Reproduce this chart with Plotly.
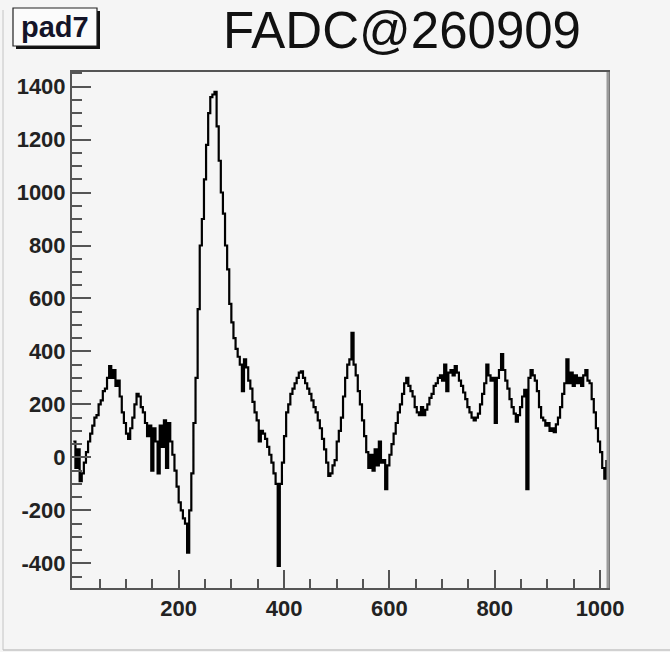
import plotly.graph_objects as go

# ---- data ----
title_text = "FADC@260909"
pad_label = "pad7"
bin_step = 4
bins = list(range(0, 1013, bin_step))
adc = [
    60, -40, 30, -90, -60, -20, 20, 60, 90, 120,
    150, 160, 200, 215, 250, 260, 300, 345, 300, 330,
    270, 290, 230, 170, 130, 90, 70, 110, 150, 200,
    240, 230, 190, 170, 130, 80, 120, -50, 110, 60,
    -60, 120, 40, 140, -40, 130, 60, 10, -50, -110,
    -170, -200, -230, -250, -360, -200, -60, 130, 300, 560,
    800, 900, 1050, 1180, 1300, 1360, 1370, 1380, 1250, 1120,
    1000, 920, 800, 710, 580, 510, 450, 410, 380, 350,
    250, 370, 340, 290, 260, 210, 170, 140, 60, 100,
    90, 70, 40, 10, -20, -60, -100, -410, -100, -20,
    80, 170, 200, 240, 260, 280, 300, 320, 325, 300,
    280, 260, 240, 215, 190, 170, 140, 110, 70, 30,
    -20, -70, -60, -30, -10, 60, 100, 150, 230, 300,
    350, 370, 470, 350, 310, 250, 200, 140, 80, 20,
    -40, 10, -50, 30, -30, 60, -20, -10, -120, -30,
    10, 50, 90, 130, 170, 200, 240, 280, 300, 270,
    250, 230, 190, 170, 160, 190, 160, 180, 200, 225,
    240, 270, 280, 300, 310, 290, 350, 250, 320, 330,
    310, 345, 320, 290, 270, 245, 220, 190, 170, 150,
    140, 150, 165, 200, 240, 280, 350, 310, 290, 300,
    130, 300, 330, 390, 330, 290, 260, 220, 190, 165,
    135, 160, 190, 230, 255, -120, 300, 330, 310, 290,
    250, 190, 150, 140, 120, 130, 100, 110, 95, 125,
    150, 190, 240, 280, 370, 280, 320, 270, 310, 280,
    300, 270, 310, 330, 290, 280, 220, 170, 110, 60,
    20, -40, -80, -10,
]
x_tick_vals = [200, 400, 600, 800, 1000]
y_tick_vals = [-400, -200, 0, 200, 400, 600, 800, 1000, 1200, 1400]
x_range = [-2.5, 1015]
y_range = [-493, 1455]

# ---- layout geometry (pixels) ----
W, H = 670, 652
L, R, T, B = 72, 608, 72, 588
pw, ph = R - L, B - T


def px(xp):
    return (xp - L) / pw


def py(yp):
    return (B - yp) / ph


bg = "#f5f5f5"
axis_col = "#555555"
label_font = dict(family="Liberation Sans, Arial, Helvetica, sans-serif",
                  size=22, color="#222222", weight="bold")

fig = go.Figure()
fig.add_trace(go.Scatter(
    x=bins, y=adc, mode="lines",
    line=dict(color="black", width=2.2, shape="hv"),
    hoverinfo="skip", showlegend=False,
))

x_minor = [v for v in range(0, 1016, 50) if v not in x_tick_vals and v > 0]
y_minor = [v for v in range(-450, 1456, 50) if v not in y_tick_vals]

fig.update_layout(
    width=W, height=H,
    margin=dict(l=L, r=W - R, t=T, b=H - B, pad=0),
    paper_bgcolor=bg, plot_bgcolor=bg,
    xaxis=dict(
        range=x_range, showgrid=False, zeroline=False,
        showline=True, linecolor=axis_col, linewidth=2, mirror=True,
        ticks="inside", ticklen=18, tickwidth=2, tickcolor=axis_col,
        tickmode="array", tickvals=x_tick_vals,
        ticktext=[str(v) for v in x_tick_vals],
        tickfont=label_font,
        minor=dict(tickmode="array", tickvals=x_minor, ticks="inside",
                   ticklen=9, tickwidth=2, tickcolor=axis_col, showgrid=False),
    ),
    yaxis=dict(
        range=y_range, showgrid=False, zeroline=False,
        showline=True, linecolor=axis_col, linewidth=2, mirror=True,
        ticks="inside", ticklen=19, tickwidth=2, tickcolor=axis_col,
        tickmode="array", tickvals=y_tick_vals,
        ticktext=[str(v) for v in y_tick_vals],
        tickfont=label_font,
        minor=dict(tickmode="array", tickvals=y_minor, ticks="inside",
                   ticklen=10, tickwidth=2, tickcolor=axis_col, showgrid=False),
    ),
)

shapes = []
# right frame edge drawn lighter/thicker as in the reference
shapes.append(dict(type="line", xref="paper", yref="paper",
                   x0=1, x1=1, y0=0, y1=1,
                   line=dict(color="#9a9a9a", width=3)))
# canvas border lines
shapes.append(dict(type="line", xref="paper", yref="paper",
                   x0=px(3), x1=px(3), y0=py(10), y1=py(650),
                   line=dict(color="#c4c4c4", width=1)))
shapes.append(dict(type="line", xref="paper", yref="paper",
                   x0=px(3), x1=px(670), y0=py(650), y1=py(650),
                   line=dict(color="#c4c4c4", width=1.5)))
# pad label box with shadow
shapes.append(dict(type="rect", xref="paper", yref="paper",
                   x0=px(16), x1=px(100), y0=py(11), y1=py(49),
                   fillcolor="#111111", line=dict(width=0)))
shapes.append(dict(type="rect", xref="paper", yref="paper",
                   x0=px(13), x1=px(97), y0=py(8), y1=py(46),
                   fillcolor="#fbfbfb", line=dict(color="#222222", width=1.2)))
fig.update_layout(shapes=shapes)

fig.add_annotation(
    text=pad_label, xref="paper", yref="paper",
    x=px(55), y=py(27), xanchor="center", yanchor="middle",
    showarrow=False,
    font=dict(family="Liberation Sans, Arial, sans-serif", size=29,
              color="#141428", weight="bold"),
)
fig.add_annotation(
    text=title_text, xref="paper", yref="paper",
    x=px(402), y=py(30), xanchor="center", yanchor="middle",
    showarrow=False,
    font=dict(family="Liberation Sans, Arial, Helvetica, sans-serif",
              size=51, color="#111111"),
)

fig.write_html("out.html")
